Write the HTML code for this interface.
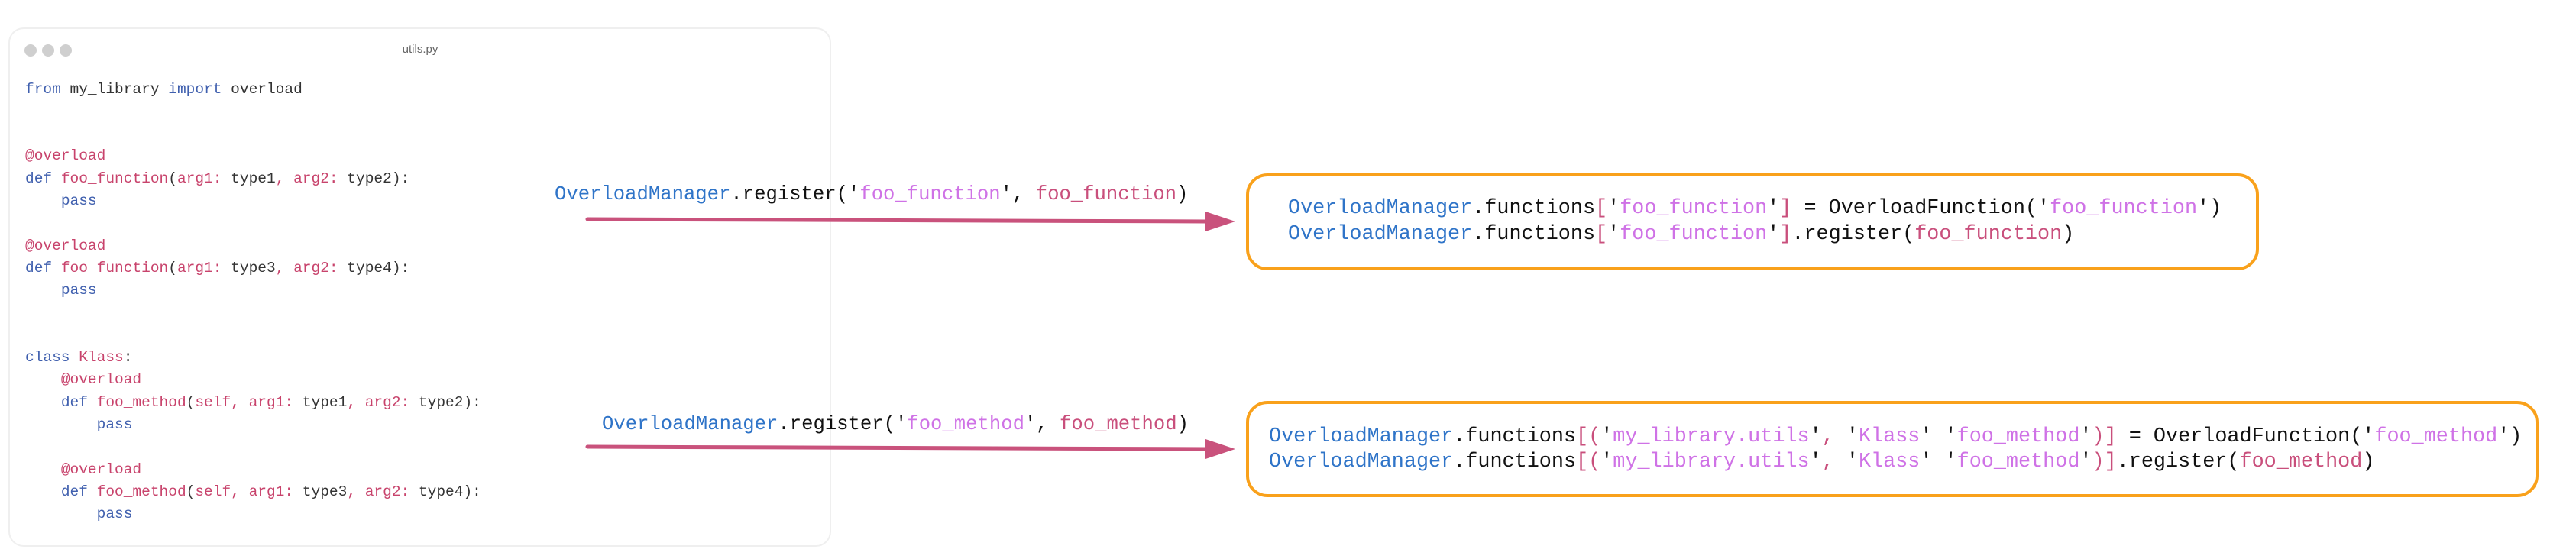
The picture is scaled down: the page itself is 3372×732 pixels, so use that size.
<!DOCTYPE html>
<html><head><meta charset="utf-8"><style>
html,body{margin:0;padding:0;background:#fff;}
body{width:3372px;height:732px;position:relative;overflow:hidden;font-family:"Liberation Mono",monospace;}
.card{position:absolute;left:11px;top:36px;width:1077px;height:680px;border:2px solid #efefef;border-radius:20px;box-sizing:border-box;background:#fff;}
.dot{position:absolute;top:58px;width:16px;height:16px;border-radius:50%;background:#cfcfcf;}
.title{position:absolute;left:500px;width:100px;top:56px;text-align:center;font-family:"Liberation Sans",sans-serif;font-size:15px;color:#666;}
.code{position:absolute;left:33px;top:102.5px;font-size:19.5px;line-height:29.3px;white-space:pre;color:#333;}
.k{color:#3f5fae}.p{color:#c8436c}
.t{position:absolute;white-space:pre;color:#111;}
.lbl{font-size:25.6px;line-height:30px;}
.bx{font-size:26.8px;line-height:30px;}
.b{color:#2f74c8}.s{color:#cf72e6}.r{color:#c94f7c}
.box{position:absolute;border:4px solid #f9a11b;border-radius:28px;box-sizing:border-box;}
</style></head><body>
<div class="card"></div>
<div class="dot" style="left:32px"></div><div class="dot" style="left:55px"></div><div class="dot" style="left:78px"></div>
<div class="title">utils.py</div>
<div class="code"><span class="k">from</span> my_library <span class="k">import</span> overload


<span class="p">@overload</span>
<span class="k">def</span> <span class="p">foo_function</span>(<span class="p">arg1:</span> type1<span class="p">,</span> <span class="p">arg2:</span> type2):
    <span class="k">pass</span>

<span class="p">@overload</span>
<span class="k">def</span> <span class="p">foo_function</span>(<span class="p">arg1:</span> type3<span class="p">,</span> <span class="p">arg2:</span> type4):
    <span class="k">pass</span>


<span class="k">class</span> <span class="p">Klass</span>:
    <span class="p">@overload</span>
    <span class="k">def</span> <span class="p">foo_method</span>(<span class="p">self,</span> <span class="p">arg1:</span> type1<span class="p">,</span> <span class="p">arg2:</span> type2):
        <span class="k">pass</span>

    <span class="p">@overload</span>
    <span class="k">def</span> <span class="p">foo_method</span>(<span class="p">self,</span> <span class="p">arg1:</span> type3<span class="p">,</span> <span class="p">arg2:</span> type4):
        <span class="k">pass</span></div>

<div class="t lbl" style="left:726px;top:240px"><span class="b">OverloadManager</span>.register('<span class="s">foo_function</span>', <span class="r">foo_function</span>)</div>
<div class="t lbl" style="left:788px;top:541px"><span class="b">OverloadManager</span>.register('<span class="s">foo_method</span>', <span class="r">foo_method</span>)</div>

<svg width="3372" height="732" style="position:absolute;left:0;top:0">
<line x1="769" y1="287" x2="1580" y2="290" stroke="#c9527c" stroke-width="5" stroke-linecap="round"/>
<polygon points="1578,277 1617,290 1578,303" fill="#c9527c"/>
<line x1="769" y1="585" x2="1580" y2="588" stroke="#c9527c" stroke-width="5" stroke-linecap="round"/>
<polygon points="1578,575 1617,588 1578,601" fill="#c9527c"/>
</svg>

<div class="box" style="left:1631px;top:227px;width:1326px;height:127px"></div>
<div class="t bx" style="left:1686px;top:258px"><span class="b">OverloadManager</span>.functions<span class="r">[</span>'<span class="s">foo_function</span>'<span class="r">]</span> = OverloadFunction('<span class="s">foo_function</span>')</div>
<div class="t bx" style="left:1686px;top:292px"><span class="b">OverloadManager</span>.functions<span class="r">[</span>'<span class="s">foo_function</span>'<span class="r">]</span>.register(<span class="r">foo_function</span>)</div>

<div class="box" style="left:1631px;top:525px;width:1692px;height:126px"></div>
<div class="t bx" style="left:1661px;top:557px"><span class="b">OverloadManager</span>.functions<span class="r">[(</span>'<span class="s">my_library.utils</span>'<span class="r">,</span> '<span class="s">Klass</span>' '<span class="s">foo_method</span>'<span class="r">)]</span> = OverloadFunction('<span class="s">foo_method</span>')</div>
<div class="t bx" style="left:1661px;top:590px"><span class="b">OverloadManager</span>.functions<span class="r">[(</span>'<span class="s">my_library.utils</span>'<span class="r">,</span> '<span class="s">Klass</span>' '<span class="s">foo_method</span>'<span class="r">)]</span>.register(<span class="r">foo_method</span>)</div>
</body></html>
